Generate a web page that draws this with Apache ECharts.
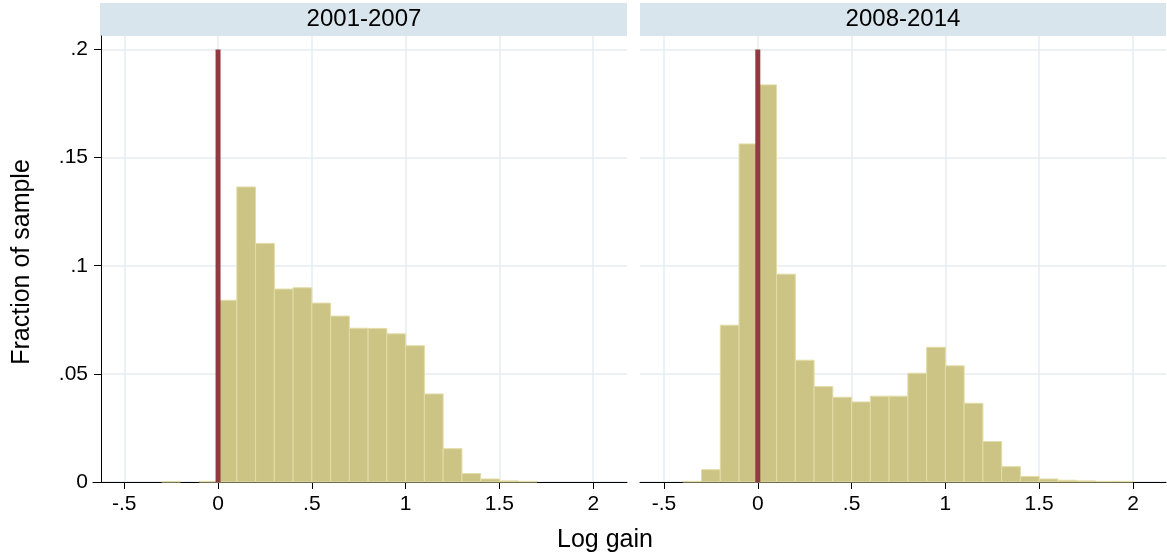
<!DOCTYPE html>
<html>
<head>
<meta charset="utf-8">
<title>Log gain histogram</title>
<script src="https://cdn.jsdelivr.net/npm/echarts@6/dist/echarts.min.js"></script>
<style>
  html, body { margin: 0; padding: 0; background: #ffffff; }
  #chart { width: 1167px; height: 556px; }
</style>
</head>
<body>
<div id="chart"></div>
<script>
// Histogram bins: left edge of each bin, all bins 0.1 wide
const binWidth = 0.1;
const binStart = [-0.4, -0.3, -0.2, -0.1, 0.0, 0.1, 0.2, 0.3, 0.4, 0.5, 0.6, 0.7,
                  0.8, 0.9, 1.0, 1.1, 1.2, 1.3, 1.4, 1.5, 1.6, 1.7, 1.8, 1.9];

// Fraction of sample in each bin, by period
const frac2001_2007 = [0, 0.0002, 0, 0.0003, 0.0840, 0.1364, 0.1103, 0.0892, 0.0898, 0.0827, 0.0767, 0.0711,
                       0.0710, 0.0685, 0.0630, 0.0407, 0.0154, 0.0039, 0.0014, 0.0005, 0.0003, 0, 0, 0];
const frac2008_2014 = [0.0003, 0.0057, 0.0725, 0.1563, 0.1836, 0.0961, 0.0563, 0.0441, 0.0392, 0.0370, 0.0397, 0.0397,
                       0.0503, 0.0623, 0.0537, 0.0364, 0.0187, 0.0071, 0.0026, 0.0014, 0.0008, 0.0005, 0.0003, 0.0003];

const panelTitles = ['2001-2007', '2008-2014'];

// Reference line at zero gain
const zeroLine = [[0, 0], [0, 0.2]];

// Tick positions and their labels
const xTicks = [-0.5, 0, 0.5, 1, 1.5, 2];
const xTickLabels = ['-.5', '0', '.5', '1', '1.5', '2'];
const yTicks = [0, 0.05, 0.1, 0.15, 0.2];
const yTickLabels = ['0', '.05', '.1', '.15', '.2'];

const FONT = '"Liberation Sans", Arial, Helvetica, sans-serif';
const BAR_FILL = '#CBC485';
const BAR_EDGE = '#E3DCA6';
const RED = '#923A41';
const GRID_LINE = '#E5EDF1';
const BAND = '#D9E5EC';

function labelFor(values, labels) {
  return function (v) {
    for (let i = 0; i < values.length; i++) {
      if (Math.abs(values[i] - v) < 1e-9) return labels[i];
    }
    return '';
  };
}

function histData(fracs) {
  const out = [];
  for (let i = 0; i < binStart.length; i++) {
    if (fracs[i] > 0) out.push([binStart[i], binStart[i] + binWidth, fracs[i]]);
  }
  return out;
}

function renderBin(params, api) {
  const top = api.coord([api.value(0), api.value(2)]);
  const bottom = api.coord([api.value(1), 0]);
  return {
    type: 'rect',
    shape: { x: top[0], y: top[1], width: bottom[0] - top[0], height: bottom[1] - top[1] },
    style: { fill: BAR_FILL, stroke: BAR_EDGE, lineWidth: 1 }
  };
}

const grids = [
  { left: 101, top: 36, width: 526, height: 446 },
  { left: 640, top: 36, width: 526, height: 446 }
];
const xRanges = [[-0.624, 2.180], [-0.628, 2.176]];

function makeXAxis(i) {
  return {
    type: 'value',
    gridIndex: i,
    min: xRanges[i][0],
    max: xRanges[i][1],
    axisLine: { show: true, onZero: false, lineStyle: { color: '#000', width: 1 } },
    axisTick: { show: true, customValues: xTicks, length: 7, lineStyle: { color: '#000', width: 1 } },
    axisLabel: {
      customValues: xTicks,
      formatter: labelFor(xTicks, xTickLabels),
      color: '#000', fontSize: 21, fontFamily: FONT, margin: 12
    },
    splitLine: { show: true, lineStyle: { color: GRID_LINE, width: 1.5 } }
  };
}

function makeYAxis(i) {
  const first = i === 0;
  return {
    type: 'value',
    gridIndex: i,
    min: 0,
    max: 0.2062,
    axisLine: { show: first, onZero: false, lineStyle: { color: '#000', width: 1 } },
    axisTick: { show: first, customValues: yTicks, length: 7, lineStyle: { color: '#000', width: 1 } },
    axisLabel: {
      show: first,
      customValues: yTicks,
      formatter: labelFor(yTicks, yTickLabels),
      color: '#000', fontSize: 21, fontFamily: FONT, margin: 13
    },
    splitLine: { show: true, lineStyle: { color: GRID_LINE, width: 1.5 } }
  };
}

const series = [];
[frac2001_2007, frac2008_2014].forEach(function (fracs, i) {
  series.push({
    type: 'custom',
    xAxisIndex: i,
    yAxisIndex: i,
    renderItem: renderBin,
    encode: { x: [0, 1], y: 2 },
    data: histData(fracs),
    z: 2,
    silent: true
  });
  series.push({
    type: 'line',
    xAxisIndex: i,
    yAxisIndex: i,
    data: zeroLine,
    symbol: 'none',
    lineStyle: { color: RED, width: 5 },
    z: 5,
    silent: true
  });
});

// Title bands above each panel, plus the shared axis titles
const graphics = [];
grids.forEach(function (g, i) {
  graphics.push({
    type: 'rect',
    shape: { x: g.left - (i === 0 ? 1 : 0), y: 3, width: g.width + (i === 0 ? 1 : 0), height: 33 },
    style: { fill: BAND },
    z: 0
  });
  graphics.push({
    type: 'text',
    x: g.left + g.width / 2,
    y: 19.5,
    style: {
      text: panelTitles[i], fill: '#000', font: '24px ' + FONT,
      textAlign: 'center', textVerticalAlign: 'middle'
    },
    z: 1
  });
});
// x-axis baseline of the first panel runs a little past the y axis
graphics.push({
  type: 'line',
  shape: { x1: 92.5, y1: 482.5, x2: 101, y2: 482.5 },
  style: { stroke: '#000', lineWidth: 1 }
});
graphics.push({
  type: 'text',
  x: 605,
  y: 540,
  style: { text: 'Log gain', fill: '#000', font: '25px ' + FONT, textAlign: 'center', textVerticalAlign: 'middle' }
});
graphics.push({
  type: 'text',
  x: 22,
  y: 262,
  rotation: Math.PI / 2,
  style: { text: 'Fraction of sample', fill: '#000', font: '25px ' + FONT, textAlign: 'center', textVerticalAlign: 'middle' }
});

const chart = echarts.init(document.getElementById('chart'), null, { renderer: 'canvas' });
chart.setOption({
  animation: false,
  backgroundColor: '#ffffff',
  grid: grids,
  xAxis: [makeXAxis(0), makeXAxis(1)],
  yAxis: [makeYAxis(0), makeYAxis(1)],
  series: series,
  graphic: graphics
});
</script>
</body>
</html>
